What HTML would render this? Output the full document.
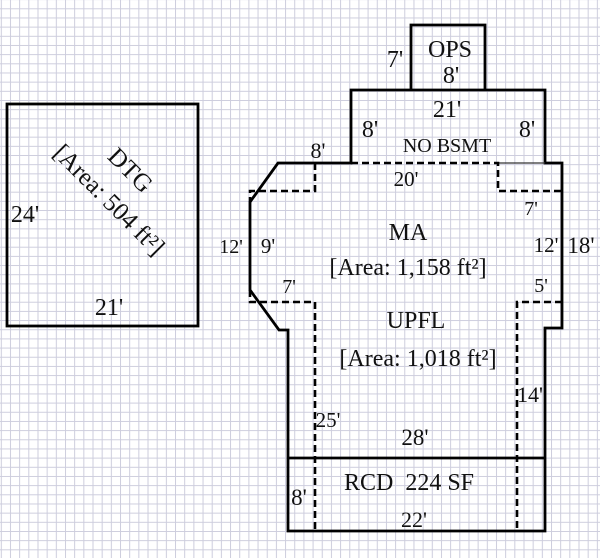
<!DOCTYPE html>
<html><head><meta charset="utf-8"><style>
html,body{margin:0;padding:0;background:#fff;}
svg{display:block;}
text{font-family:"Liberation Serif",serif;fill:#111;}
</style></head><body>
<svg width="600" height="558" viewBox="0 0 600 558" xmlns="http://www.w3.org/2000/svg">
<defs>
<pattern id="g" x="0.8" y="-0.87" width="9.17" height="9.17" patternUnits="userSpaceOnUse">
<path d="M0.5,0 V9.17 M0,0.5 H9.17" stroke="#cdcddd" stroke-width="1" fill="none"/>
</pattern>
</defs>
<rect width="600" height="558" fill="#fff"/>
<rect width="600" height="558" fill="url(#g)"/>

<!-- DTG -->
<rect x="7" y="104" width="191" height="222" fill="none" stroke="#000" stroke-width="2.8"/>
<text x="25" y="222" font-size="24" text-anchor="middle">24'</text>
<text x="109" y="315" font-size="24" text-anchor="middle">21'</text>
<g transform="translate(109,200) rotate(45)">
<text x="-6" y="-28" font-size="25" text-anchor="middle">DTG</text>
<text x="0" y="8" font-size="25" text-anchor="middle">[Area: 504 ft²]</text>
</g>

<!-- main outline -->
<path d="M278,163 L351,163 L351,90 L545,90 L545,163 L562,163 L562,328 L545,328 L545,531 L288,531 L288,330 L279,330 L250,290 L250,202 Z" fill="none" stroke="#000" stroke-width="2.8" stroke-linejoin="miter"/>
<path d="M411,90 L411,25 L485,25 L485,90" fill="none" stroke="#000" stroke-width="2.8"/>
<path d="M288,458 L545,458" fill="none" stroke="#000" stroke-width="2.8"/>
<path d="M498,163 L545,163" fill="none" stroke="#333" stroke-width="1.2"/>

<!-- dashed -->
<g fill="none" stroke="#000" stroke-width="2.6" stroke-dasharray="7,4">
<path d="M351,163 L498,163 L498,191 L562,191"/>
<path d="M315,163 L315,191 L250,191 L250,202"/>
<path d="M250,290 L250,302 L315,302 L315,531"/>
<path d="M562,302 L517,302 L517,531"/>
</g>

<!-- labels -->
<g text-anchor="middle">
<text x="395" y="67" font-size="24">7'</text>
<text x="450" y="57" font-size="24">OPS</text>
<text x="451" y="83" font-size="24">8'</text>
<text x="447" y="117" font-size="24">21'</text>
<text x="370" y="137" font-size="24">8'</text>
<text x="527" y="137" font-size="24">8'</text>
<text x="447" y="152" font-size="20">NO BSMT</text>
<text x="318" y="158" font-size="22">8'</text>
<text x="406" y="186" font-size="21">20'</text>
<text x="231" y="253" font-size="20">12'</text>
<text x="268" y="253" font-size="21">9'</text>
<text x="289" y="293" font-size="20">7'</text>
<text x="408" y="240" font-size="24">MA</text>
<text x="408" y="275" font-size="24">[Area: 1,158 ft²]</text>
<text x="416" y="328" font-size="24">UPFL</text>
<text x="418" y="366" font-size="24">[Area: 1,018 ft²]</text>
<text x="531" y="215" font-size="20">7'</text>
<text x="546" y="252" font-size="21">12'</text>
<text x="581" y="253" font-size="23">18'</text>
<text x="541" y="292" font-size="20">5'</text>
<text x="530" y="402" font-size="22">14'</text>
<text x="328" y="427" font-size="21">25'</text>
<text x="415" y="445" font-size="23">28'</text>
<text x="409" y="490" font-size="24">RCD&#160;&#160;224 SF</text>
<text x="299" y="505" font-size="23">8'</text>
<text x="414" y="527" font-size="22">22'</text>
</g>
</svg>
</body></html>
